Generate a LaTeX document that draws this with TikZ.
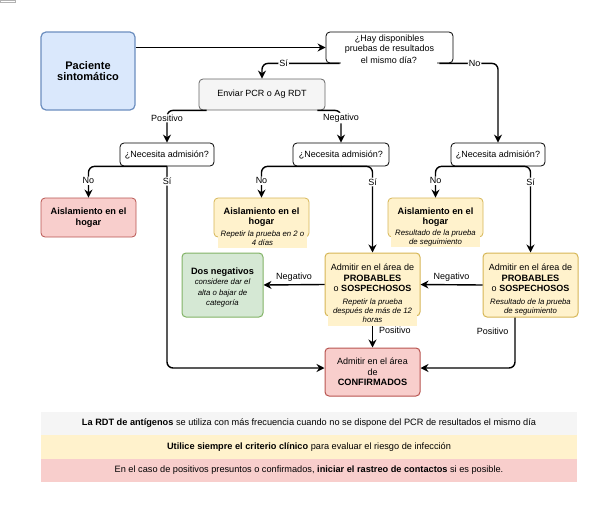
\documentclass[tikz,border=0pt]{standalone}
\usepackage{fontspec}
\setmainfont{Liberation Sans}
\usetikzlibrary{arrows.meta,calc}
\definecolor{blueF}{HTML}{DAE8FC}\definecolor{blueD}{HTML}{6C8EBF}
\definecolor{grayF}{HTML}{F5F5F5}\definecolor{grayD}{HTML}{666666}
\definecolor{redF}{HTML}{F8CECC}\definecolor{redD}{HTML}{B85450}
\definecolor{yelF}{HTML}{FFF2CC}\definecolor{yelD}{HTML}{D6B656}
\definecolor{greF}{HTML}{D5E8D4}\definecolor{greD}{HTML}{82B366}
\newcommand\fnN{\fontsize{9}{10.5}\selectfont}
\newcommand\fnB{\fontsize{9.2}{11}\selectfont\bfseries}
\newcommand\fnI{\fontsize{7.8}{9}\selectfont\itshape}
\newcommand\fnP{\fontsize{11}{14}\selectfont\bfseries}
\tikzset{
  box/.style={draw, rounded corners=4pt, line width=0.8pt, inner sep=0pt, align=center, font=\fnN},
  txt/.style={inner sep=0pt, align=center, font=\fnN},
  sub/.style={inner sep=0pt, align=center, font=\fnI},
  lbl/.style={fill=white, inner sep=1pt, font=\fnN},
  arr/.style={line width=1.4pt, rounded corners=6pt, -{Stealth[length=8pt,width=8pt]}},
  bar/.style={inner sep=0pt, minimum width=536pt, minimum height=23.6pt, font=\fontsize{9.2}{10}\selectfont}
}
\begin{document}
\begin{tikzpicture}[x=1pt,y=-1pt]
\useasboundingbox (0,0) rectangle (615,506);
\draw[gray!60, line width=0.6pt] (0.3,0.3) rectangle (15.5,2.3);

% nodes
\node[box, line width=1.2pt, rounded corners=5pt, fill=blueF, draw=blueD, minimum width=94pt, minimum height=78pt] (pac) at (88,71) {\fnP Paciente\\\fnP sintomático};
\node[box, minimum width=127pt, minimum height=31pt] (hay) at (389.5,47.5) {};
\node[txt] (hayt) at (389.5,44) {¿Hay disponibles\\pruebas de resultados};
\node[txt, fill=white, minimum width=96pt, inner ysep=1.5pt] (hayt2) at (389,60) {el mismo día?};
\node[box, fill=grayF, draw=grayD, minimum width=126pt, minimum height=31pt] (env) at (262,94.5) {Enviar PCR o Ag RDT};

\node[box, minimum width=94pt, minimum height=23pt] (necL) at (167,154.5) {¿Necesita admisión?};
\node[box, minimum width=96pt, minimum height=23pt] (necM) at (341,154.5) {¿Necesita admisión?};
\node[box, minimum width=94pt, minimum height=23pt] (necR) at (498,154.5) {¿Necesita admisión?};

\node[box, fill=redF, draw=redD, minimum width=95pt, minimum height=39pt] (aisR) at (88.5,217.5) {\fnB Aislamiento en el\\\fnB hogar};

\node[box, fill=yelF, draw=yelD, minimum width=95pt, minimum height=39pt] (ymid) at (261.5,217.5) {};
\node[txt] (ymidt) at (261.5,217) {\fnB Aislamiento en el\\\fnB hogar};
\node[sub, fill=yelF, minimum width=89pt, minimum height=20pt] (ymids) at (262.5,238) {Repetir la prueba en 2 o\\4 días};

\node[box, fill=yelF, draw=yelD, minimum width=95pt, minimum height=39pt] (yright) at (435.5,217.5) {};
\node[txt] (yrightt) at (435.5,217) {\fnB Aislamiento en el\\\fnB hogar};
\node[sub, fill=yelF, minimum width=89pt, minimum height=19pt] (yrights) at (435.5,237.5) {Resultado de la prueba\\de seguimiento};

\node[box, fill=greF, draw=greD, line width=1pt, minimum width=81pt, minimum height=64pt] (dos) at (222.5,285) {};
\node[txt] (dost) at (222.5,287.5) {\fnB Dos negativos\\\fnI considere dar el\\\fnI alta o bajar de\\\fnI categoría};

\node[box, fill=yelF, draw=yelD, line width=1pt, minimum width=95pt, minimum height=63pt] (pmid) at (372.5,284.5) {};
\node[txt] (pmidt) at (372.5,278) {Admitir en el área de\\\fnB PROBABLES\\o \textbf{SOSPECHOSOS}};
\node[sub, fill=yelF, minimum width=89pt, minimum height=30pt] (pmids) at (372.5,311) {Repetir la prueba\\después de más de 12\\horas};

\node[box, fill=yelF, draw=yelD, line width=1pt, minimum width=95pt, minimum height=64pt] (pright) at (530.5,285) {};
\node[txt] (prightt) at (530.5,278) {Admitir en el área de\\\fnB PROBABLES\\o \textbf{SOSPECHOSOS}};
\node[sub] (prights) at (530.5,306.5) {Resultado de la prueba\\de seguimiento};

\node[box, fill=redF, draw=redD, line width=1pt, minimum width=95pt, minimum height=48pt] (conf) at (372.5,372) {Admitir en el área\\de\\\fnB CONFIRMADOS};

% bars
\node[bar, fill=grayF] (b1) at (309,423.5) {\textbf{La RDT de antígenos} se utiliza con más frecuencia cuando no se dispone del PCR de resultados el mismo día};
\node[bar, fill=yelF] (b2) at (309,447) {\textbf{Utilice siempre el criterio clínico} para evaluar el riesgo de infección};
\node[bar, fill=redF] (b3) at (309,470.5) {En el caso de positivos presuntos o confirmados, \textbf{iniciar el rastreo de contactos} si es posible.};

% connectors
\draw[arr] (pac.east |- hay.west) -- (hay.west);
\draw[arr] ([xshift=14pt]hay.south west) -| node[lbl, pos=0.36]{Sí} (env.north);
\draw[arr] ([xshift=-14pt]hay.south east) -| node[lbl, pos=0.3]{No} (necR.north);
\draw[arr] ([xshift=8pt]env.south west) -| node[lbl, pos=0.62]{Positivo} (necL.north);
\draw[arr] ([xshift=-8pt]env.south east) -| node[lbl, pos=0.62]{Negativo} (necM.north);

\draw[arr] (necL.south) -| node[lbl, pos=0.73]{No} (aisR.north);
\draw[arr] (necL.south) |- node[lbl, pos=0.037]{Sí} ([yshift=4pt]conf.west);
\draw[arr] (necM.south) -| node[lbl, pos=0.73]{No} (ymid.north);
\draw[arr] (necM.south) -| node[lbl, pos=0.59]{Sí} (pmid.north);
\draw[arr] (necR.south) -| node[lbl, pos=0.73]{No} (yright.north);
\draw[arr] (necR.south) -| node[lbl, pos=0.59]{Sí} (pright.north);

\draw[arr] (pmid.west) -- node[above, font=\fnN, inner sep=3pt]{Negativo} (dos.east);
\draw[arr] (pright.west) -- node[above, font=\fnN, inner sep=3pt]{Negativo} (pmid.east);
\draw[arr] (pmids.south) -- node[right, font=\fnN, pos=0.2, inner sep=6pt]{Positivo} (conf.north);
\draw[arr] ([xshift=-15.5pt]pright.south) |- node[left, font=\fnN, pos=0.14, inner sep=6pt]{Positivo} ([yshift=4pt]conf.east);
\end{tikzpicture}
\end{document}
